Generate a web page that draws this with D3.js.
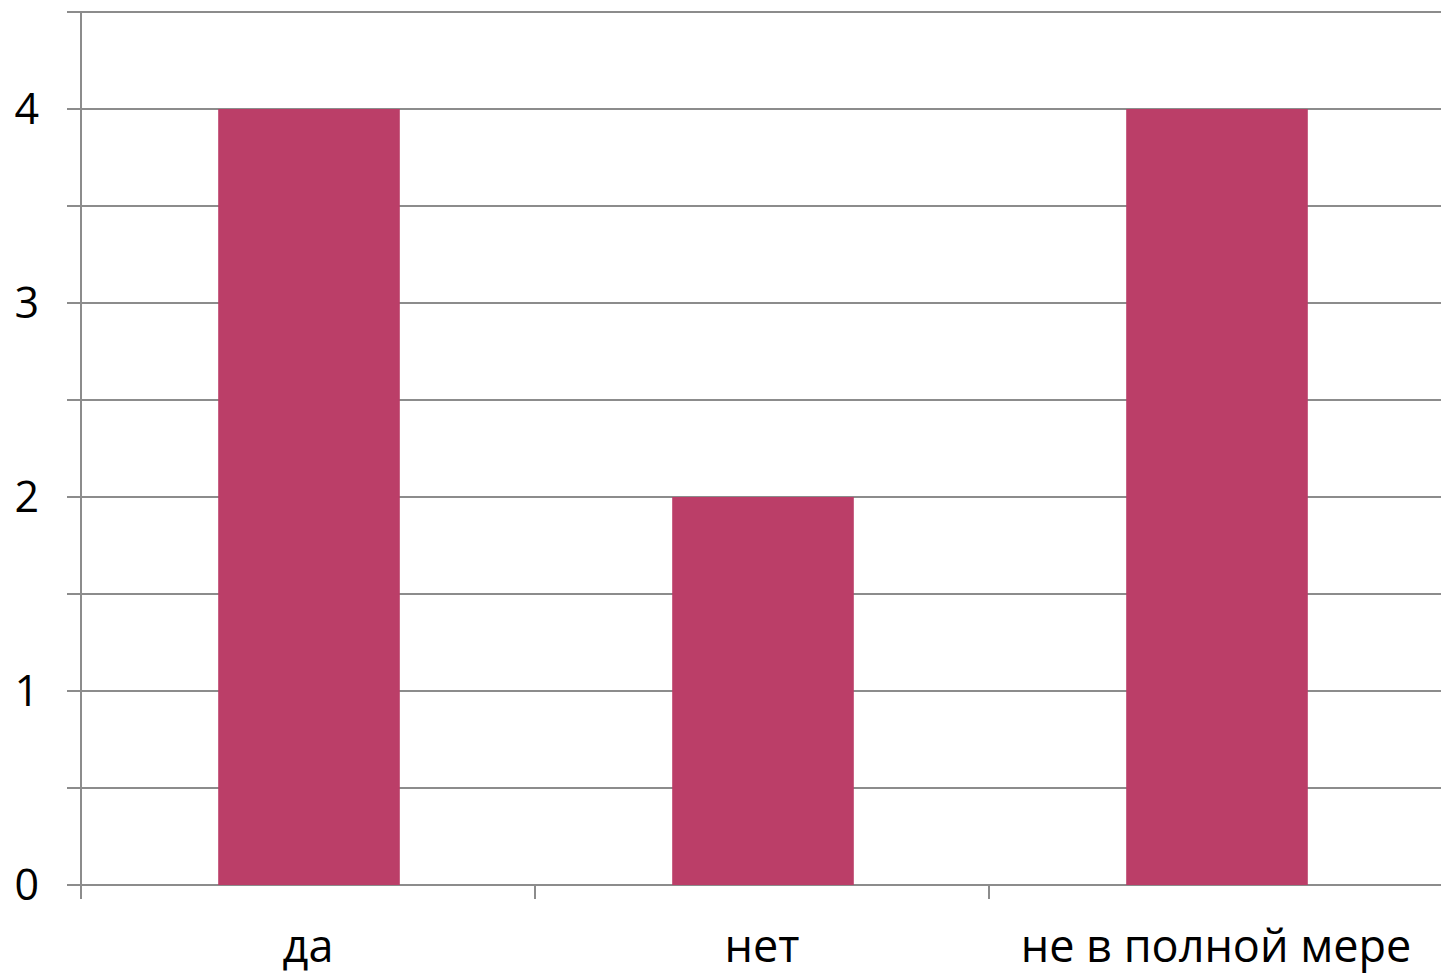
<!DOCTYPE html>
<html>
<head>
<meta charset="utf-8">
<script src="https://cdn.jsdelivr.net/npm/d3@7"></script>
<style>
  body { margin: 0; background: #fff; }
  text { font-family: "Open Sans", sans-serif; fill: #000; }
</style>
</head>
<body>
<div id="chart"></div>
<script>
// data
var categories = ["да", "нет", "не в полной мере"];
var values = [4, 2, 4];
var yTicks = [0, 1, 2, 3, 4];
var gridTicks = [0, 0.5, 1, 1.5, 2, 2.5, 3, 3.5, 4, 4.5];

var svgWidth = 1441;
var svgHeight = 980;

var margin = { top: 12, right: -2, bottom: 95, left: 81 };
var width = svgWidth - margin.left - margin.right;
var height = svgHeight - margin.top - margin.bottom;

var svg = d3.select("#chart")
  .append("svg")
  .attr("width", svgWidth)
  .attr("height", svgHeight);

var chartGroup = svg.append("g")
  .attr("transform", `translate(${margin.left}, ${margin.top})`);

var xScale = d3.scaleBand()
  .domain(categories)
  .range([0, width])
  .padding(0);

var yScale = d3.scaleLinear()
  .domain([0, 4.5])
  .range([height, 0]);

// gridlines (with the little tick stubs on the left)
chartGroup.selectAll(".grid")
  .data(gridTicks)
  .enter()
  .append("line")
  .attr("x1", -14)
  .attr("x2", width)
  .attr("y1", d => yScale(d))
  .attr("y2", d => yScale(d))
  .attr("stroke", "#8c8c8c")
  .attr("stroke-width", 2);

// bars
var barW = xScale.bandwidth() * 0.4;
chartGroup.selectAll(".bar")
  .data(values)
  .enter()
  .append("rect")
  .attr("x", (d, i) => xScale(categories[i]) + xScale.bandwidth() / 2 - barW / 2 + 1)
  .attr("y", d => yScale(d))
  .attr("width", barW)
  .attr("height", d => height - yScale(d))
  .attr("fill", "#bb3e68");

// y axis line
chartGroup.append("line")
  .attr("x1", 0).attr("x2", 0)
  .attr("y1", 0).attr("y2", height + 14)
  .attr("stroke", "#8c8c8c")
  .attr("stroke-width", 2);

// x axis category ticks
chartGroup.selectAll(".xtick")
  .data(categories.slice(1))
  .enter()
  .append("line")
  .attr("x1", d => xScale(d))
  .attr("x2", d => xScale(d))
  .attr("y1", height)
  .attr("y2", height + 14)
  .attr("stroke", "#8c8c8c")
  .attr("stroke-width", 2);

// y labels
chartGroup.selectAll(".ylab")
  .data(yTicks)
  .enter()
  .append("text")
  .attr("x", -42)
  .attr("y", d => yScale(d))
  .attr("dy", "0.36em")
  .attr("text-anchor", "end")
  .style("font-size", "43px")
  .text(d => d);

// x labels
chartGroup.selectAll(".xlab")
  .data(categories)
  .enter()
  .append("text")
  .attr("x", d => xScale(d) + xScale.bandwidth() / 2)
  .attr("y", height + 77)
  .attr("text-anchor", "middle")
  .style("font-size", "45px")
  .text(d => d);
</script>
</body>
</html>
